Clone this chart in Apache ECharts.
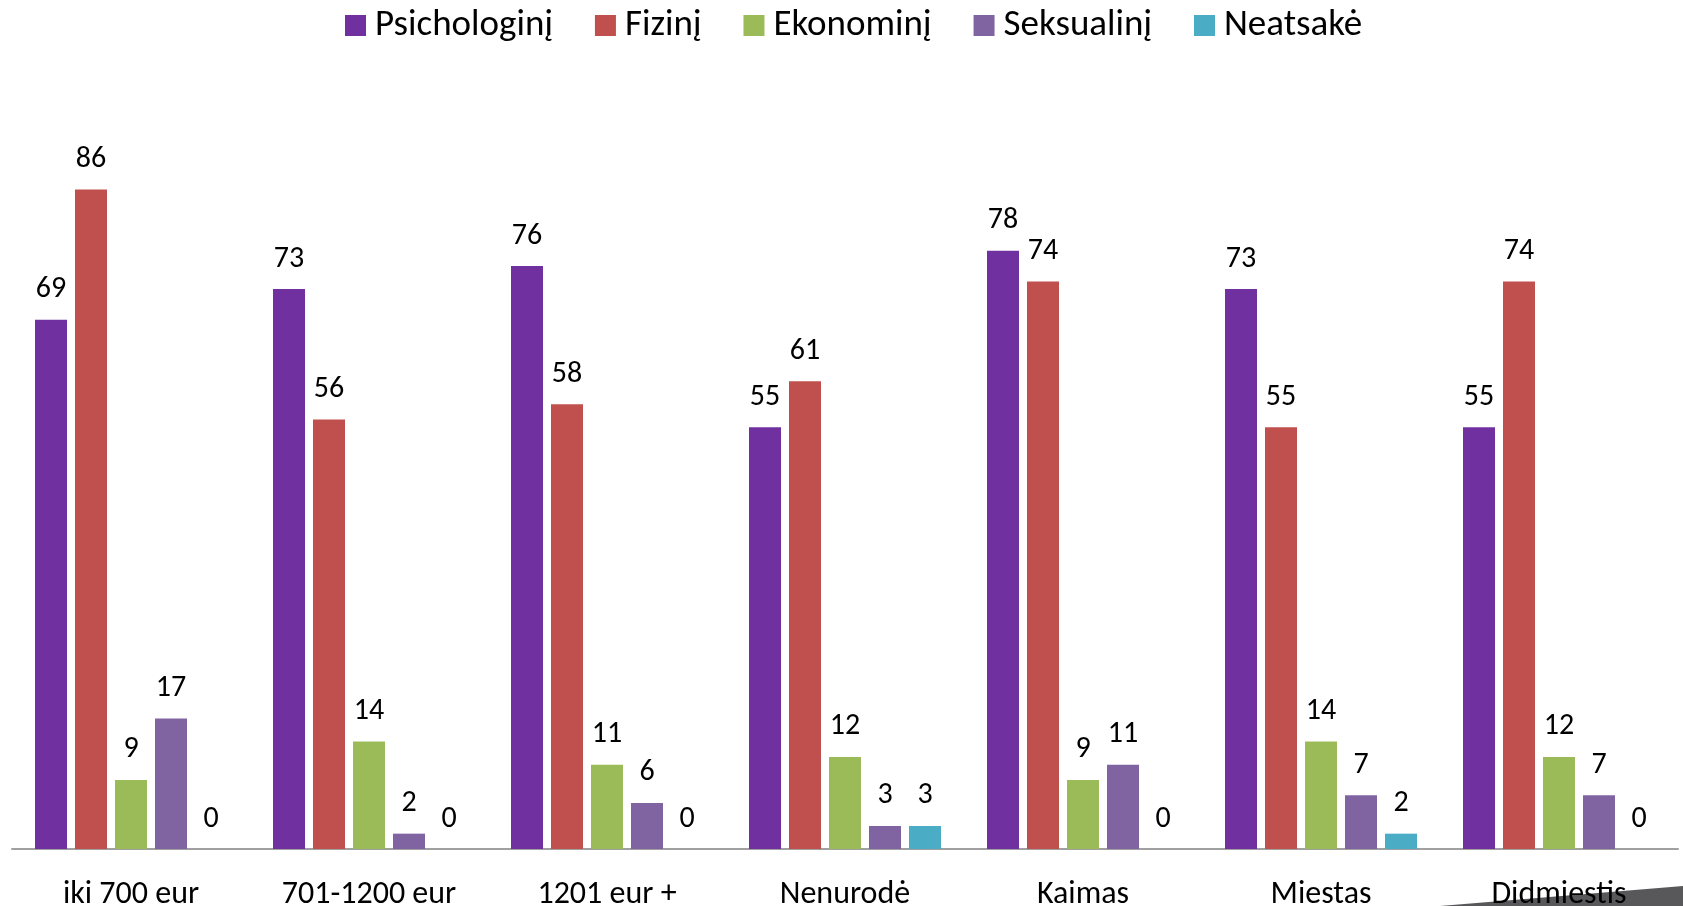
<!DOCTYPE html>
<html><head><meta charset="utf-8">
<script src="https://cdn.jsdelivr.net/npm/echarts@6/dist/echarts.min.js"></script>
<style>html,body{margin:0;padding:0;background:#fff}#c{width:1683px;height:906px}</style>
</head><body><div id="c"></div>
<script>
const categories = ['iki 700 eur', '701-1200 eur', '1201 eur +', 'Nenurodė', 'Kaimas', 'Miestas', 'Didmiestis'];
const seriesNames = ['Psichologinį', 'Fizinį', 'Ekonominį', 'Seksualinį', 'Neatsakė'];
const psichologini = [69, 73, 76, 55, 78, 73, 55];
const fizini = [86, 56, 58, 61, 74, 55, 74];
const ekonomini = [9, 14, 11, 12, 9, 14, 12];
const seksualini = [17, 2, 6, 3, 11, 7, 7];
const neatsake = [0, 0, 0, 3, 0, 2, 0];
const colors = ['#7030A0', '#C0504D', '#9BBB59', '#8064A2', '#4BACC6'];

const FONT = 'Carlito, Lato, "Noto Sans", sans-serif';
const values = [psichologini, fizini, ekonomini, seksualini, neatsake];
const chart = echarts.init(document.getElementById('c'));
chart.setOption({
  animation: false,
  color: colors,
  textStyle: {fontFamily: FONT},
  legend: {
    top: 2, left: 340, itemWidth: 21, itemHeight: 21, itemGap: 42,
    icon: 'rect',
    textStyle: {fontSize: 37, color: '#000', fontFamily: FONT, padding: [0, 0, 0, 4]}
  },
  grid: {left: 12, right: 5, top: 82, bottom: 57, containLabel: false, outerBoundsMode: 'none'},
  xAxis: {
    type: 'category', data: categories,
    axisTick: {show: false},
    axisLine: {lineStyle: {color: '#a0a0a0', width: 2}},
    axisLabel: {fontSize: 32, color: '#000', margin: 30, fontFamily: FONT}
  },
  yAxis: {type: 'value', min: 0, max: 100, show: false, splitLine: {show: false}},
  series: values.map((v, i) => ({
    name: seriesNames[i], type: 'bar', data: v,
    barWidth: 32, barGap: '25%',
    label: {show: true, position: 'top', distance: 15, fontSize: 30, color: '#000', fontFamily: FONT}
  })),
  graphic: [{
    type: 'polygon', silent: true,
    shape: {points: [[1440, 906], [1683, 886], [1683, 906]]},
    style: {fill: '#58585a'}
  }]
});
</script></body></html>
